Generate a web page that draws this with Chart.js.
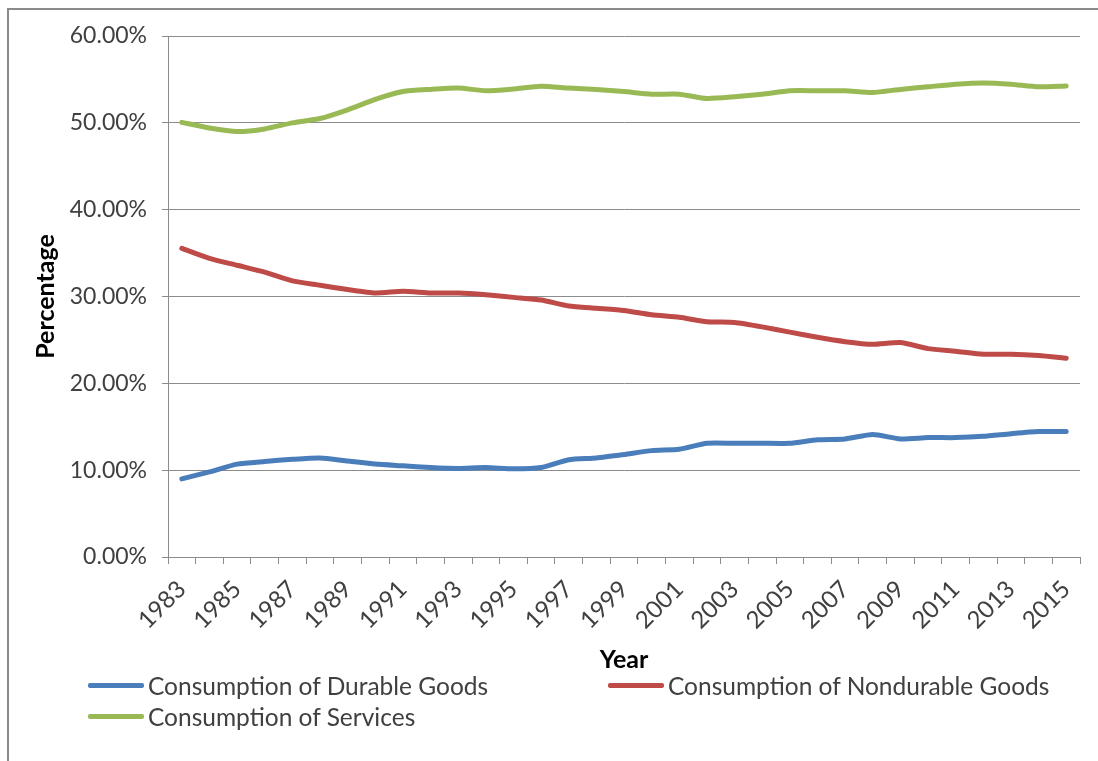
<!DOCTYPE html>
<html>
<head>
<meta charset="utf-8">
<script src="https://cdn.jsdelivr.net/npm/chart.js@4/dist/chart.umd.min.js"></script>
<style>
    body { margin: 0; background: #fff; width: 1098px; height: 761px; overflow: hidden; position: relative; font-family: Lato, sans-serif; }
    #frame { position: absolute; left: 7px; top: 8px; width: 1100px; height: 760px; border-left: 2px solid #8a8a8a; border-top: 2px solid #8a8a8a; }
    #wrap { position: absolute; left: 0; top: 0; width: 1098px; height: 680px; }
    #legend { position: absolute; left: 88px; top: 673px; display: grid; grid-template-columns: 520px auto; row-gap: 7px; }
    .item { display: flex; align-items: center; font-size: 24.5px; color: #404040; height: 24px; }
    .swatch { width: 56px; height: 5px; border-radius: 2px; margin-right: 4px; }
</style>
</head>
<body>
<div id="frame"></div>
<div id="wrap"><canvas id="consumptionChart"></canvas></div>
<div id="legend"></div>
<script>
const years = ['1983', '1984', '1985', '1986', '1987', '1988', '1989', '1990', '1991', '1992', '1993',
    '1994', '1995', '1996', '1997', '1998', '1999', '2000', '2001', '2002', '2003', '2004',
    '2005', '2006', '2007', '2008', '2009', '2010', '2011', '2012', '2013', '2014', '2015'];

const durableGoods = [9.0, 9.8, 10.7, 11.0, 11.25, 11.4, 11.05, 10.7, 10.5, 10.3, 10.2,
    10.3, 10.15, 10.3, 11.2, 11.4, 11.8, 12.25, 12.4, 13.1, 13.1, 13.1,
    13.1, 13.5, 13.6, 14.1, 13.6, 13.75, 13.75, 13.9, 14.2, 14.45, 14.45];

const nondurableGoods = [35.55, 34.4, 33.6, 32.8, 31.8, 31.3, 30.8, 30.4, 30.6, 30.4, 30.4,
    30.2, 29.9, 29.6, 28.9, 28.65, 28.4, 27.9, 27.6, 27.1, 27.0, 26.5,
    25.9, 25.3, 24.8, 24.5, 24.7, 24.0, 23.7, 23.35, 23.35, 23.2, 22.9];

const services = [50.05, 49.4, 49.0, 49.3, 50.0, 50.5, 51.5, 52.7, 53.6, 53.85, 54.0,
    53.7, 53.9, 54.2, 54.0, 53.85, 53.6, 53.3, 53.3, 52.8, 53.0, 53.3,
    53.7, 53.7, 53.7, 53.5, 53.85, 54.15, 54.45, 54.6, 54.45, 54.15, 54.25];

const yTicks = [0, 10, 20, 30, 40, 50, 60];

const gridGray = '#8c8c8c';
const textGray = '#404040';

function lineSet(label, data, color) {
    return {
        label: label,
        data: data,
        borderColor: color,
        backgroundColor: color,
        borderWidth: 5,
        pointRadius: 0,
        tension: 0.2,
        borderCapStyle: 'round',
        borderJoinStyle: 'round'
    };
}

const chart = new Chart(document.getElementById('consumptionChart'), {
    type: 'line',
    data: {
        labels: years,
        datasets: [
            lineSet('Consumption of Durable Goods', durableGoods, '#4a7ebb'),
            lineSet('Consumption of Nondurable Goods', nondurableGoods, '#be4b48'),
            lineSet('Consumption of Services', services, '#98b954')
        ]
    },
    options: {
        responsive: true,
        maintainAspectRatio: false,
        animation: false,
        layout: { padding: { top: 36, right: 18, left: 31, bottom: 0 } },
        plugins: {
            legend: { display: false },
            tooltip: { enabled: false }
        },
        scales: {
            x: {
                offset: true,
                afterFit: scale => { scale.height = 123; },
                grid: { offset: true, drawOnChartArea: false, color: gridGray, tickLength: 7 },
                border: { color: gridGray },
                ticks: {
                    autoSkip: false,
                    maxRotation: 45,
                    minRotation: 45,
                    padding: 11,
                    color: textGray,
                    font: { family: 'Lato', size: 24 },
                    callback: function(value, index) {
                        return index % 2 === 0 ? this.getLabelForValue(value) : '';
                    }
                },
                title: {
                    display: true,
                    text: 'Year',
                    color: '#000',
                    padding: { top: 0, bottom: 5 },
                    font: { family: 'Lato', size: 25, weight: 'bold' }
                }
            },
            y: {
                min: yTicks[0],
                max: yTicks[yTicks.length - 1],
                afterFit: scale => { scale.width = 137; },
                afterBuildTicks: scale => { scale.ticks = yTicks.map(v => ({ value: v })); },
                grid: { color: gridGray, tickLength: 6 },
                border: { color: gridGray },
                ticks: {
                    padding: 15,
                    color: textGray,
                    font: { family: 'Lato', size: 23 },
                    callback: value => value.toFixed(2) + '%'
                },
                title: {
                    display: true,
                    text: 'Percentage',
                    color: '#000',
                    padding: 0,
                    font: { family: 'Lato', size: 25, weight: 'bold' }
                }
            }
        }
    }
});

// legend in two columns, like the original
const legendBox = document.getElementById('legend');
chart.data.datasets.forEach(ds => {
    const item = document.createElement('div');
    item.className = 'item';
    const swatch = document.createElement('span');
    swatch.className = 'swatch';
    swatch.style.background = ds.borderColor;
    const text = document.createElement('span');
    text.textContent = ds.label;
    item.appendChild(swatch);
    item.appendChild(text);
    legendBox.appendChild(item);
});
</script>
</body>
</html>
